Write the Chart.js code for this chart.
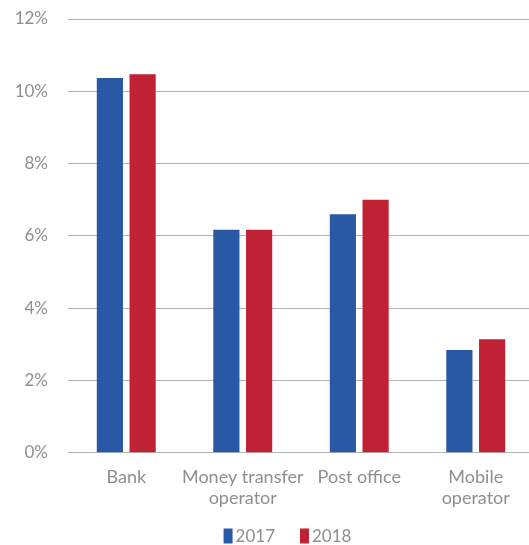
<!DOCTYPE html>
<html>
<head>
<meta charset="utf-8">
<script src="https://cdn.jsdelivr.net/npm/chart.js@4"></script>
<style>
html,body{margin:0;padding:0;background:#fff;overflow:hidden;}
#wrap{width:534px;height:545px;position:relative;}
</style>
</head>
<body>
<div id="wrap"><canvas id="c" width="534" height="545"></canvas></div>
<script>
const categories = [['Bank'], ['Money transfer', 'operator'], ['Post office'], ['Mobile', 'operator']];
const seriesNames = ['2017', '2018'];
const values2017 = [10.37, 6.17, 6.6, 2.84];
const values2018 = [10.47, 6.17, 7.0, 3.14];
const yTicks = [0, 2, 4, 6, 8, 10, 12];

const BLUE = '#2958A5';
const RED = '#C12135';
const TEXT = '#8f8f8f';
const FONT = "Lato, 'Open Sans', sans-serif";

const legendPlugin = {
  id: 'customLegend',
  afterDraw(chart) {
    const ctx = chart.ctx;
    const ds = chart.data.datasets;
    ctx.save();
    ctx.font = '17px ' + FONT;
    ctx.textBaseline = 'middle';
    const boxW = 9, boxH = 15, gap = 3, itemGap = 25;
    const widths = ds.map(d => boxW + gap + ctx.measureText(d.label).width);
    const total = widths.reduce((a, b) => a + b, 0) + itemGap * (ds.length - 1);
    let x = 287.5 - total / 2;
    const y = 536;
    ds.forEach((d, i) => {
      ctx.fillStyle = d.backgroundColor;
      ctx.fillRect(x, y - boxH / 2, boxW, boxH);
      ctx.fillStyle = TEXT;
      ctx.fillText(d.label, x + boxW + gap, y + 1);
      x += widths[i] + itemGap;
    });
    ctx.restore();
  }
};

new Chart(document.getElementById('c'), {
  type: 'bar',
  data: {
    labels: categories,
    datasets: [
      { label: seriesNames[0], data: values2017, backgroundColor: BLUE },
      { label: seriesNames[1], data: values2018, backgroundColor: RED }
    ]
  },
  options: {
    responsive: false,
    animation: false,
    events: [],
    layout: { padding: { top: 19, right: 0, bottom: 0, left: 0 } },
    datasets: { bar: { categoryPercentage: 0.562, barPercentage: 0.8 } },
    plugins: { legend: { display: false }, tooltip: { enabled: false } },
    scales: {
      x: {
        grid: { display: false, drawTicks: false },
        border: { display: false },
        ticks: { color: TEXT, font: { family: FONT, size: 18, lineHeight: 1.17 }, padding: 14, maxRotation: 0, autoSkip: false },
        afterFit(s) { s.height = 92.3; }
      },
      y: {
        min: 0, max: 12,
        afterBuildTicks(s) { s.ticks = yTicks.map(v => ({ value: v })); },
        grid: { color: '#b4b4b4', lineWidth: 1, drawTicks: false },
        border: { display: false },
        ticks: { color: TEXT, font: { family: FONT, size: 17 }, padding: 20, callback: v => v + '%' },
        afterFit(s) { s.width = 68; s.paddingTop = 0; s.paddingBottom = 0; }
      }
    }
  },
  plugins: [legendPlugin]
});
</script>
</body>
</html>
